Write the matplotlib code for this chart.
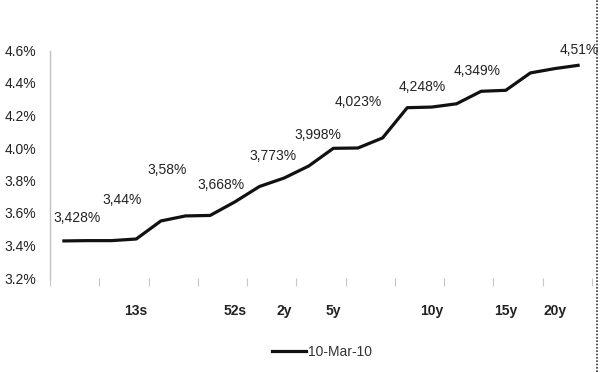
import matplotlib
matplotlib.use("Agg")
import matplotlib.pyplot as plt
from matplotlib.lines import Line2D

plt.rcParams['font.family'] = ['Liberation Sans', 'DejaVu Sans']

# ---- data ----
yields = [3.428, 3.43, 3.43, 3.44, 3.551, 3.582, 3.585, 3.668, 3.763, 3.815,
          3.889, 3.998, 4.0, 4.062, 4.248, 4.252, 4.272, 4.349, 4.355, 4.462,
          4.489, 4.51]
tick_idx = [3, 7, 9, 11, 15, 18, 20]
tick_labels = ["13s", "52s", "2y", "5y", "10y", "15y", "20y"]
yticks = [3.2, 3.4, 3.6, 3.8, 4.0, 4.2, 4.4, 4.6]
ann_texts = ["3,428%", "3,44%", "3,58%", "3,668%", "3,773%", "3,998%",
             "4,023%", "4,248%", "4,349%", "4,51%"]
ann_x = [0.6, 2.43, 4.26, 6.45, 8.56, 10.39, 12.0, 14.6, 16.84, 20.97]
ann_y = [3.569, 3.68, 3.865, 3.772, 3.951, 4.08, 4.283, 4.375, 4.474, 4.603]
series_name = "10-Mar-10"

fig = plt.figure(figsize=(6, 3.72), dpi=100)
ax = fig.add_axes([50/600, 1 - 278/372, 542/600, 227.5/372])

x = list(range(len(yields)))
line, = ax.plot(x, yields, color='#111111', lw=2.3, solid_capstyle='butt',
                solid_joinstyle='round')

ax.set_xlim(-0.5, len(yields) - 0.5)
ax.set_ylim(3.2, 4.6)

# y axis
ax.set_yticks(yticks)
ax.set_yticklabels([f"{v:.1f}%" for v in yticks])
ax.tick_params(axis='y', length=0, pad=10, labelsize=10, labelcolor='#222222')

# x axis: tick marks every 2 categories, labels at selected categories
ax.set_xticks([-0.5 + 2 * k for k in range(12)], minor=True)
ax.set_xticks(tick_idx)
ax.set_xticklabels(tick_labels, fontweight='bold')
ax.tick_params(axis='x', which='major', length=0, pad=19, labelsize=10,
               labelcolor='#222222')
ax.tick_params(axis='x', which='minor', length=6, width=0.8, color='#c8c8c8',
               direction='out')

for s in ['top', 'right', 'bottom']:
    ax.spines[s].set_visible(False)
ax.spines['left'].set_color('#c0c0c0')
ax.spines['left'].set_linewidth(1.0)

for t, xx, yy in zip(ann_texts, ann_x, ann_y):
    ax.text(xx, yy, t, ha='center', va='center', fontsize=10, color='#222222',
            clip_on=False)

# legend
handle = Line2D([], [], color='#111111', lw=2.3)
fig.legend([handle], [series_name], loc='center', bbox_to_anchor=(322/600, 1 - 352/372),
           frameon=False, fontsize=10, handlelength=2.5, handletextpad=0.15,
           labelcolor='#333333')

# dotted right border
fig.add_artist(Line2D([597/600, 597/600], [0, 1], transform=fig.transFigure,
                      color='#333333', lw=1.2, linestyle=(0, (1, 1))))

fig.savefig("out.png", dpi=100)
